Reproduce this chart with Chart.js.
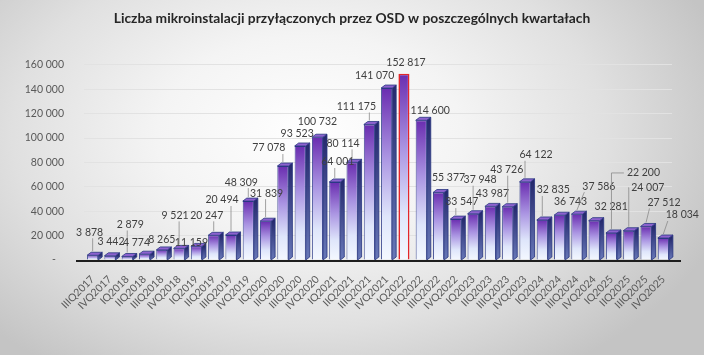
<!DOCTYPE html>
<html><head><meta charset="utf-8">
<script src="https://cdn.jsdelivr.net/npm/chart.js@4.4.1/dist/chart.umd.min.js"></script>
<style>
html,body{margin:0;padding:0;}
#wrap{width:704px;height:355px;position:relative;overflow:hidden;
background:radial-gradient(ellipse 62% 80% at 44% 38%, #ffffff 0%, #f4f4f4 35%, #e0e0e0 68%, #c4c4c4 100%);}
canvas{display:block;}
</style></head><body>
<div id="wrap"><canvas id="c" width="704" height="355"></canvas></div>
<script>
const titleText = 'Liczba mikroinstalacji przyłączonych przez OSD w poszczególnych kwartałach';
const categories = ['IIIQ2017','IVQ2017','IQ2018','IIQ2018','IIIQ2018','IVQ2018','IQ2019','IIQ2019','IIIQ2019','IVQ2019',
  'IQ2020','IIQ2020','IIIQ2020','IVQ2020','IQ2021','IIQ2021','IIIQ2021','IVQ2021','IQ2022','IIQ2022','IIIQ2022','IVQ2022',
  'IQ2023','IIQ2023','IIIQ2023','IVQ2023','IQ2024','IIQ2024','IIIQ2024','IVQ2024','IQ2025','IIQ2025','IIIQ2025','IVQ2025'];
const values = [3878,3442,2879,4774,8265,9521,11159,20247,20494,48309,
  31839,77078,93523,100732,64001,80114,111175,141070,152817,114600,55377,33547,
  37948,43987,43726,64122,32835,36743,37586,32281,22200,24007,27512,18034];
const yTicks = [0,20000,40000,60000,80000,100000,120000,140000,160000];
const highlightIndex = 18;
// label offsets (px) relative to bar top centre
const labelDX = [-3,1,3,-8,0,-4,-5,-7,-9,-7,1,-14,-3,0,3,-9,-13,-12,2,9,10,6,7,2,-1,11,11,11,22,17,32,19,18,19];
const labelDY = [-23,-14,-32,-12,-10,-33,-4,-20,-35,-19,-28,-18,-12,-16,-20,-19,-18,-12,-11,-10,-15,-17,-34,-13,-37,-27,-30,-14,-28,-14,-60,-43,-24,-23];

const fmt = v => v === 0 ? '-   ' : String(v).replace(/\B(?=(\d{3})+(?!\d))/g, ' ');
const FONT = 'Lato, "Open Sans", sans-serif';

function barGradient(ctx) {
  const ch = ctx.chart, ys = ch.scales && ch.scales.y;
  if (!ys || ctx.type !== 'data') return '#8a5cd0';
  const top = ys.getPixelForValue(values[ctx.dataIndex]);
  const base = ys.getPixelForValue(0);
  if (!isFinite(top) || !isFinite(base) || top === base) return '#8a5cd0';
  const g = ch.ctx.createLinearGradient(0, top, 0, base);
  g.addColorStop(0, '#6a2db0');
  g.addColorStop(0.4, '#aa94e2');
  g.addColorStop(0.75, '#dfe6fb');
  g.addColorStop(1, '#f4f8ff');
  return g;
}

const bar3d = {
  id: 'bar3d',
  afterDatasetsDraw(chart) {
    const c = chart.ctx, meta = chart.getDatasetMeta(0);
    const base = chart.scales.y.getPixelForValue(0);
    c.save();
    meta.data.forEach((el, i) => {
      if (i === highlightIndex) return;
      const {x, y, width} = el.getProps(['x','y','width'], true);
      const l = x - width/2, r = x + width/2, d = 4, h = 3;
      const g = c.createLinearGradient(0, y, 0, base);
      g.addColorStop(0, '#262a6e'); g.addColorStop(1, '#6878b8');
      c.beginPath(); c.moveTo(r, y); c.lineTo(r+d, y-h); c.lineTo(r+d, base-h); c.lineTo(r, base); c.closePath();
      c.fillStyle = g; c.fill();
      c.strokeStyle = '#283680'; c.lineWidth = 0.8; c.stroke();
      c.beginPath(); c.moveTo(l, y); c.lineTo(l+d, y-h); c.lineTo(r+d, y-h); c.lineTo(r, y); c.closePath();
      c.fillStyle = '#8c62cf'; c.fill(); c.stroke();
    });
    c.strokeStyle = '#1e1e1e'; c.lineWidth = 2;
    c.beginPath(); c.moveTo(76, base + 1); c.lineTo(681, base + 1); c.stroke();
    c.restore();
  }
};

const dataLabels = {
  id: 'dataLabels',
  afterDraw(chart) {
    const c = chart.ctx, meta = chart.getDatasetMeta(0);
    c.save();
    c.font = '10.5px ' + FONT;
    c.textAlign = 'center'; c.textBaseline = 'middle';
    meta.data.forEach((el, i) => {
      const {x, y} = el.getProps(['x','y'], true);
      const lx = x + labelDX[i], ly = y + labelDY[i];
      const txt = fmt(values[i]);
      const w = c.measureText(txt).width;
      const ty = y - 4;
      if (labelDY[i] < -16) {
        c.strokeStyle = '#8a8a8a'; c.lineWidth = 0.8;
        c.beginPath();
        if (x >= lx - w/2 && x <= lx + w/2) {
          c.moveTo(x, ly + 6); c.lineTo(x, ty);
        } else if (x < lx - w/2) {
          if (labelDY[i] < -40) { c.moveTo(lx - w/2 - 3, ly); c.lineTo(x, ly); c.lineTo(x, ty); }
          else { c.moveTo(lx - w/2 + 2, ly + 6); c.lineTo(x, ty); }
        } else {
          c.moveTo(lx + w/2 - 2, ly + 6); c.lineTo(x, ty);
        }
        c.stroke();
      }
      c.fillStyle = '#404040';
      c.fillText(txt, lx, ly);
    });
    c.restore();
  }
};

new Chart(document.getElementById('c'), {
  type: 'bar',
  data: {
    labels: categories,
    datasets: [{
      data: values,
      backgroundColor: barGradient,
      borderColor: ctx => ctx.dataIndex === highlightIndex ? '#e3262b' : '#2c3a88',
      borderWidth: ctx => ctx.dataIndex === highlightIndex ? 1.6 : 0.9,
      categoryPercentage: 1,
      barPercentage: 0.64
    }]
  },
  options: {
    responsive: false,
    devicePixelRatio: 1,
    animation: false,
    layout: { padding: 0 },
    plugins: {
      legend: { display: false },
      tooltip: { enabled: false },
      title: {
        display: true, text: titleText, color: '#262626',
        font: { family: FONT, size: 13.8, weight: 'bold', lineHeight: 1.2 },
        padding: { top: 10, bottom: 38.4 }
      }
    },
    scales: {
      x: {
        grid: { display: false, drawTicks: false },
        border: { display: false },
        ticks: { autoSkip: false, maxRotation: 45, minRotation: 45, padding: 13, color: '#595959',
          font: { family: FONT, size: 10.5 } },
        afterFit(s) { s.height = 95; }
      },
      y: {
        min: 0, max: 160000,
        afterBuildTicks(s) { s.ticks = yTicks.map(v => ({ value: v })); },
        grid: { drawTicks: false, color: ctx => ctx.tick && ctx.tick.value === 0 ? 'rgba(0,0,0,0)' : '#e2e2e2', lineWidth: 1 },
        border: { display: false },
        ticks: { padding: 20, color: '#595959', font: { family: FONT, size: 10.5 }, callback: v => fmt(v) },
        afterFit(s) { s.width = 84; }
      },
      yRight: {
        position: 'right', min: 0, max: 160000,
        grid: { display: false, drawTicks: false },
        border: { display: false },
        ticks: { display: false },
        afterFit(s) { s.width = 32; }
      }
    }
  },
  plugins: [bar3d, dataLabels]
});
</script>
</body></html>
